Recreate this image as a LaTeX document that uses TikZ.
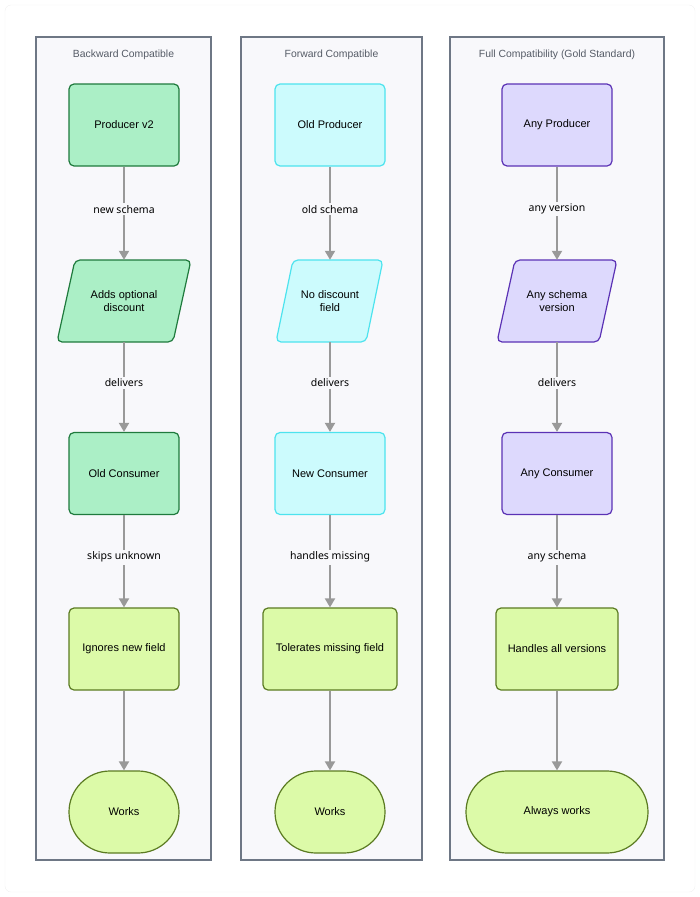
\documentclass[tikz,border=0pt]{standalone}
\usepackage{fontspec}
\setmainfont{Liberation Sans}
\newfontfamily\lblfont{Noto Sans}
\usetikzlibrary{arrows.meta}
\definecolor{gfill}{HTML}{ABEFC6}
\definecolor{gline}{HTML}{1F7A3D}
\definecolor{cfill}{HTML}{CCFBFD}
\definecolor{cline}{HTML}{4DE3EE}
\definecolor{pfill}{HTML}{DDD9FD}
\definecolor{pline}{HTML}{5B32B5}
\definecolor{lfill}{HTML}{DCFAA8}
\definecolor{lline}{HTML}{5B7B22}
\definecolor{clfill}{HTML}{F8F8FB}
\definecolor{clline}{HTML}{6E7785}
\definecolor{arr}{HTML}{999999}
\definecolor{ttl}{HTML}{555B66}
\tikzset{
  cluster/.style={draw=clline, fill=clfill, line width=1.2pt},
  ctitle/.style={font=\fontsize{10.4}{12}\selectfont, text=ttl},
  box/.style={rounded corners=5pt, line width=1.2pt, minimum height=82pt, align=center, font=\fontsize{11}{13}\selectfont},
  grn/.style={draw=gline, fill=gfill},
  cyn/.style={draw=cline, fill=cfill},
  prp/.style={draw=pline, fill=pfill},
  lim/.style={draw=lline, fill=lfill},
  ghost/.style={minimum height=82pt, align=center, font=\fontsize{11}{13}\selectfont},
  para/.style={rounded corners=5pt, line width=1.2pt},
  link/.style={draw=arr, line width=1.8pt, -{Triangle[length=9pt,width=10pt]}},
  elbl/.style={fill=clfill, font=\lblfont\fontsize{10.5}{12.5}\selectfont, text=black, inner sep=2pt, yshift=4pt},
}
\begin{document}
\begin{tikzpicture}[x=1pt,y=-1pt]
\useasboundingbox (0,0) rectangle (700,897);
\draw[draw=black!6, rounded corners=6pt] (5,5) rectangle (695,892);
% clusters
\draw[cluster] (36,37) rectangle (211,860);
\draw[cluster] (241,37) rectangle (422,860);
\draw[cluster] (450,37) rectangle (664,860);
\node[ctitle] (t1) at (123.5,55) {Backward Compatible};
\node[ctitle] (t2) at (331.5,55) {Forward Compatible};
\node[ctitle] (t3) at (557,55) {Full Compatibility (Gold Standard)};

% ---------- column 1
\node[box,grn,minimum width=110pt] (a1) at (124,125) {Producer v2};
\node[ghost,minimum width=100pt] (a2) at (124,301) {};
\node[box,grn,minimum width=110pt] (a3) at (124,473.5) {Old Consumer};
\node[box,lim,minimum width=110pt] (a4) at (124,649) {Ignores new field};
\node[box,lim,minimum width=110pt,rounded corners=41pt] (a5) at (124,812) {Works};
% ---------- column 2
\node[box,cyn,minimum width=110pt] (b1) at (330,125) {Old Producer};
\node[ghost,minimum width=80pt] (b2) at (330,301) {};
\node[box,cyn,minimum width=110pt] (b3) at (330,473.5) {New Consumer};
\node[box,lim,minimum width=134pt] (b4) at (330,649) {Tolerates missing field};
\node[box,lim,minimum width=110pt,rounded corners=41pt] (b5) at (330,812) {Works};
% ---------- column 3
\node[box,prp,minimum width=110pt] (c1) at (557,125) {Any Producer};
\node[ghost,minimum width=90pt] (c2) at (557,301) {};
\node[box,prp,minimum width=110pt] (c3) at (557,473.5) {Any Consumer};
\node[box,lim,minimum width=122pt] (c4) at (557,649) {Handles all versions};
\node[box,lim,minimum width=182pt,rounded corners=41pt] (c5) at (557,812) {Always works};

% parallelograms
\draw[para,grn] (75,260) -- (191,260) -- (173,342) -- (57,342) -- cycle;
\draw[para,cyn] (293,260) -- (383,260) -- (366,342) -- (276,342) -- cycle;
\draw[para,prp] (515,260) -- (617,260) -- (599,342) -- (497,342) -- cycle;
\node[ghost] (a2t) at (a2) {Adds optional\\discount};
\node[ghost] (b2t) at (b2) {No discount\\field};
\node[ghost] (c2t) at (c2) {Any schema\\version};

% connectors
\draw[link] (a1.south) -- node[elbl] (la1) {new schema} (a2.north);
\draw[link] (a2.south) -- node[elbl] (la2) {delivers} (a3.north);
\draw[link] (a3.south) -- node[elbl] (la3) {skips unknown} (a4.north);
\draw[link] (a4.south) -- (a5.north);

\draw[link] (b1.south) -- node[elbl] (lb1) {old schema} (b2.north);
\draw[link] (b2.south) -- node[elbl] (lb2) {delivers} (b3.north);
\draw[link] (b3.south) -- node[elbl] (lb3) {handles missing} (b4.north);
\draw[link] (b4.south) -- (b5.north);

\draw[link] (c1.south) -- node[elbl] (lc1) {any version} (c2.north);
\draw[link] (c2.south) -- node[elbl] (lc2) {delivers} (c3.north);
\draw[link] (c3.south) -- node[elbl] (lc3) {any schema} (c4.north);
\draw[link] (c4.south) -- (c5.north);
\end{tikzpicture}
\end{document}
